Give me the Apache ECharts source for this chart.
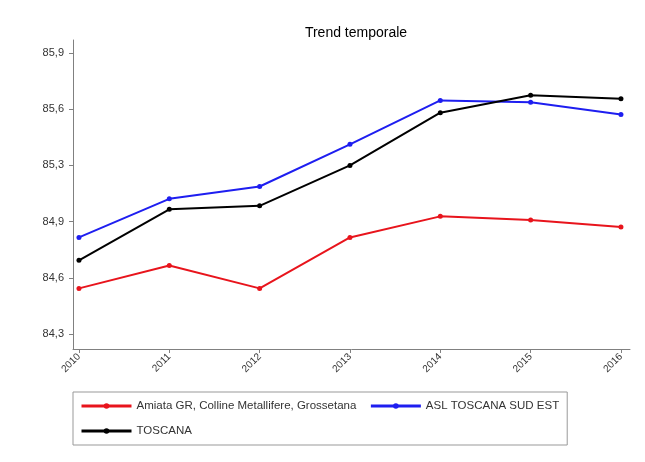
<!DOCTYPE html>
<html>
<head>
<meta charset="utf-8">
<script src="https://cdn.jsdelivr.net/npm/echarts@6/dist/echarts.min.js"></script>
<style>
  html, body { margin: 0; padding: 0; background: #fff; }
  #chart { width: 645px; height: 462px; }
</style>
</head>
<body>
<div id="chart"></div>
<script>
// dati
var years = [2010, 2011, 2012, 2013, 2014, 2015, 2016];
var yTicks = [84.3, 84.62, 84.94, 85.26, 85.58, 85.9];
var amiata = [84.56, 84.69, 84.56, 84.85, 84.97, 84.95, 84.91];
var aslSudEst = [84.85, 85.07, 85.14, 85.38, 85.63, 85.62, 85.55];
var toscana = [84.72, 85.01, 85.03, 85.26, 85.56, 85.66, 85.64];

function pairs(vals) {
  return years.map(function (y, i) { return [y, vals[i]]; });
}

var chart = echarts.init(document.getElementById('chart'));

function lineSeries(name, vals, color) {
  return {
    name: name,
    type: 'line',
    data: pairs(vals),
    symbol: 'circle',
    symbolSize: 5,
    lineStyle: { width: 2, color: color },
    itemStyle: { color: color },
    emphasis: { disabled: true }
  };
}

var option = {
  animation: false,
  textStyle: { fontFamily: 'Liberation Sans' },
  title: {
    text: 'Trend temporale',
    left: 351,
    textAlign: 'center',
    top: 21,
    textStyle: { fontSize: 14, fontWeight: 'normal', color: '#000' }
  },
  grid: { left: 73, top: 40, right: 15, bottom: 113 },
  xAxis: {
    type: 'value',
    min: 2009.934,
    max: 2016.1,
    splitLine: { show: false },
    axisLine: { lineStyle: { color: '#808080' } },
    axisTick: { customValues: years, length: 4, lineStyle: { color: '#808080' } },
    axisLabel: {
      customValues: years,
      rotate: 45,
      fontSize: 10,
      color: '#333',
      margin: 6,
      formatter: function (v) { return String(v); }
    }
  },
  yAxis: {
    type: 'value',
    min: 84.215,
    max: 85.974,
    splitLine: { show: false },
    axisLine: { show: true, lineStyle: { color: '#808080' } },
    axisTick: { show: true, customValues: yTicks, length: 4, lineStyle: { color: '#808080' } },
    axisLabel: {
      customValues: yTicks,
      fontSize: 11,
      color: '#333',
      margin: 9,
      formatter: function (v) { return v.toFixed(1).replace('.', ','); }
    }
  },
  legend: {
    left: 73,
    top: 392,
    width: 500,
    padding: [8, 8, 8, 7],
    borderColor: '#999',
    borderWidth: 1,
    itemWidth: 50,
    itemHeight: 7,
    itemGap: 13,
    lineStyle: { width: 3 },
    textStyle: { fontSize: 11.5, color: '#333' },
    data: ['Amiata GR, Colline Metallifere, Grossetana', 'ASL TOSCANA SUD EST', 'TOSCANA']
  },
  series: [
    lineSeries('Amiata GR, Colline Metallifere, Grossetana', amiata, '#e8141c'),
    lineSeries('ASL TOSCANA SUD EST', aslSudEst, '#1e1ef0'),
    lineSeries('TOSCANA', toscana, '#000000')
  ]
};

chart.setOption(option);
</script>
</body>
</html>
